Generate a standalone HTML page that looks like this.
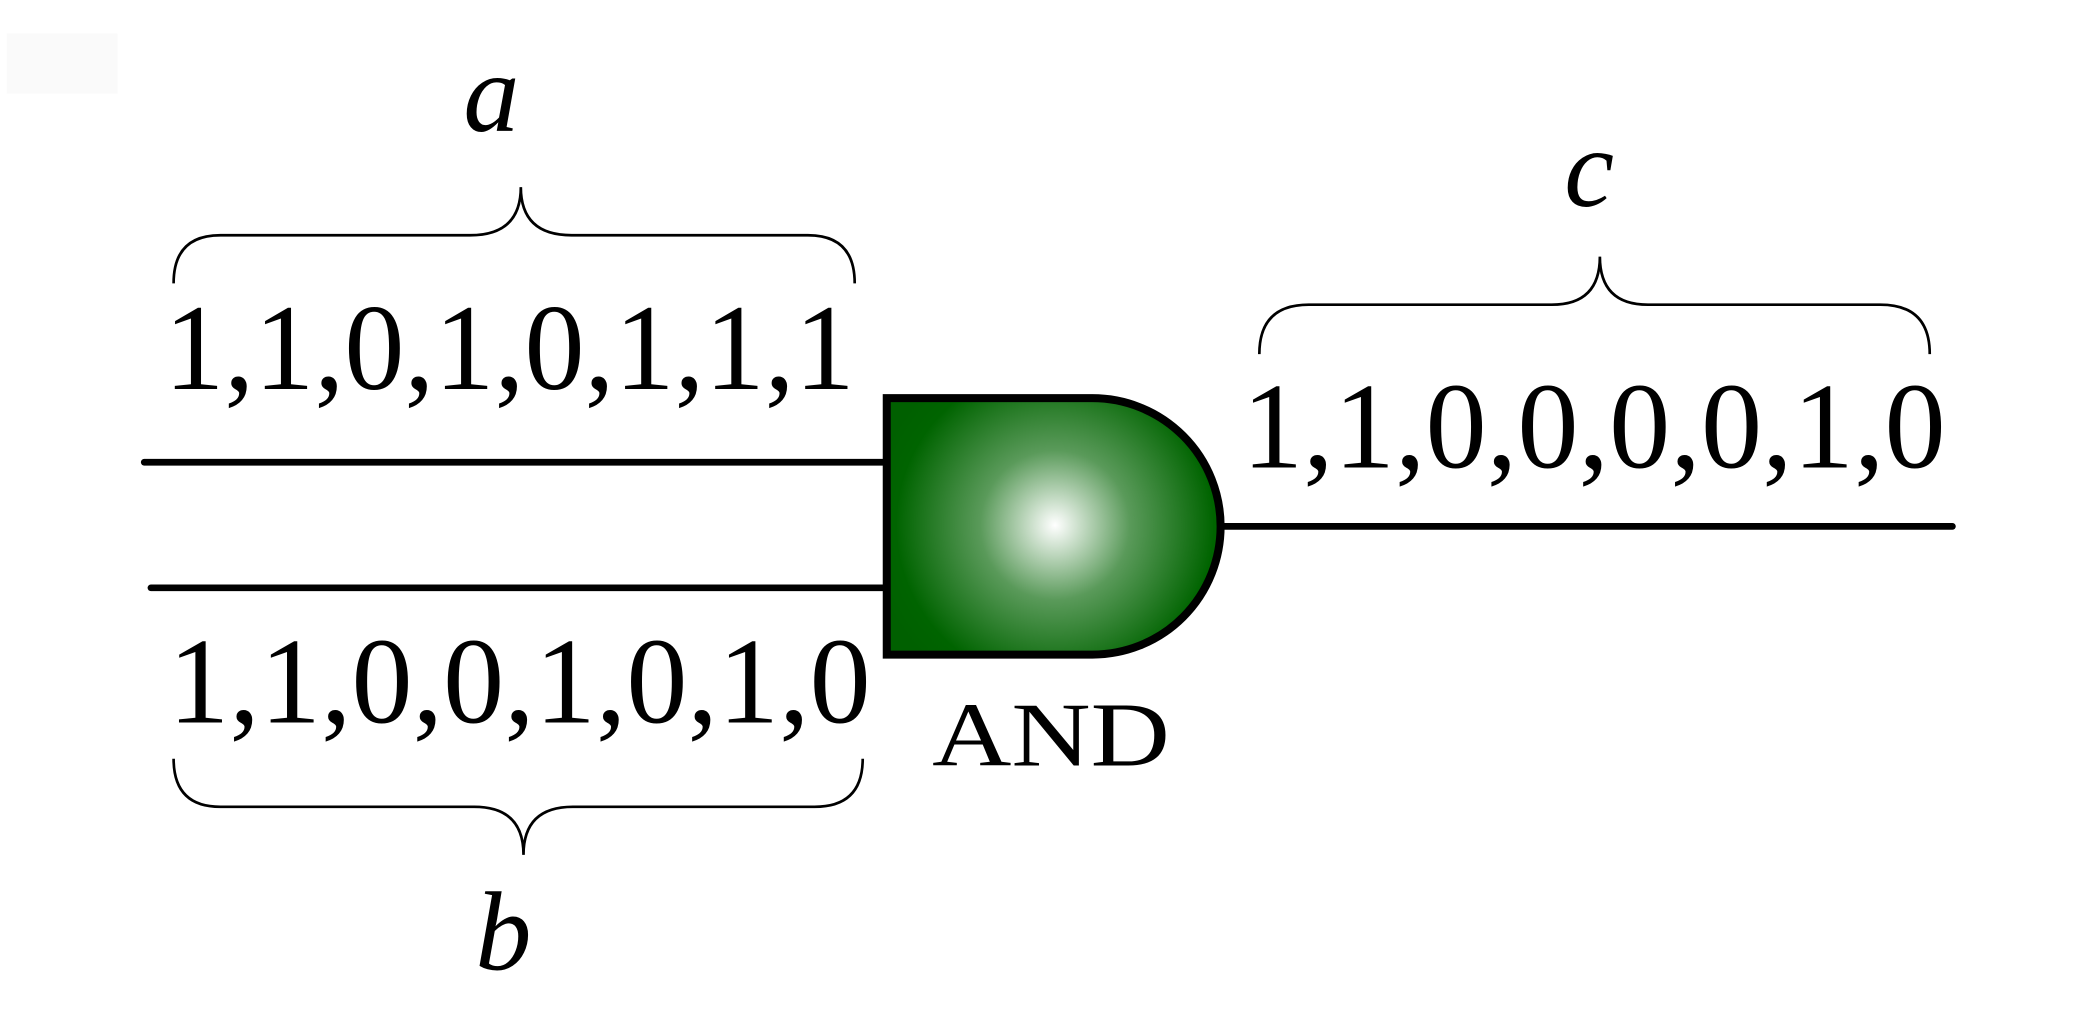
<!DOCTYPE html>
<html><head><meta charset="utf-8"><style>
html,body{margin:0;padding:0;background:#fff;}
svg{display:block;}
text{font-family:"Liberation Serif",serif;fill:#000;}
</style></head><body>
<svg width="2094" height="1010" viewBox="0 0 1568 756" xmlns="http://www.w3.org/2000/svg">
<defs>
<radialGradient id="g" cx="790" cy="393" r="140" gradientUnits="userSpaceOnUse">
<stop offset="0" stop-color="#ffffff"/>
<stop offset="0.4" stop-color="#5a9a5a"/>
<stop offset="0.85" stop-color="#006400"/>
<stop offset="1" stop-color="#006000"/>
</radialGradient>
</defs>
<rect width="1568" height="756" fill="#fff"/>
<rect x="5" y="25" width="83" height="45" fill="#fafafa"/>
<text x="368" y="98" font-size="84" font-style="italic" text-anchor="middle">a</text>
<text x="1190" y="154" font-size="84" font-style="italic" text-anchor="middle">c</text>
<text x="377" y="726" font-size="84" font-style="italic" text-anchor="middle">b</text>
<g fill="none" stroke="#000" stroke-width="2">
<path d="M130,212 Q130,176 165,176 L352,176 Q390,176 390,140 Q390,176 428,176 L605,176 Q640,176 640,212"/>
<path d="M943,265 Q943,228 980,228 L1162,228 Q1198,228 1198,192 Q1198,228 1234,228 L1408,228 Q1445,228 1445,265"/>
<path d="M130,568 Q130,604 165,604 L355,604 Q392,604 392,640 Q392,604 429,604 L610,604 Q646,604 646,568"/>
</g>
<text x="123" y="291" font-size="92" textLength="517" lengthAdjust="spacingAndGlyphs">1,1,0,1,0,1,1,1</text>
<text x="126" y="541" font-size="92" textLength="526" lengthAdjust="spacingAndGlyphs">1,1,0,0,1,0,1,0</text>
<text x="930" y="350" font-size="92" textLength="527" lengthAdjust="spacingAndGlyphs">1,1,0,0,0,0,1,0</text>
<text x="698" y="573" font-size="68" textLength="178" lengthAdjust="spacingAndGlyphs">AND</text>
<g stroke="#000" stroke-width="5" stroke-linecap="round">
<line x1="108" y1="346" x2="662" y2="346"/>
<line x1="113" y1="440" x2="662" y2="440"/>
<line x1="914" y1="394" x2="1462" y2="394"/>
</g>
<path d="M664,298 L818,298 A96,96 0 0 1 818,490 L664,490 Z" fill="url(#g)" stroke="#000" stroke-width="6"/>
</svg>
</body></html>
